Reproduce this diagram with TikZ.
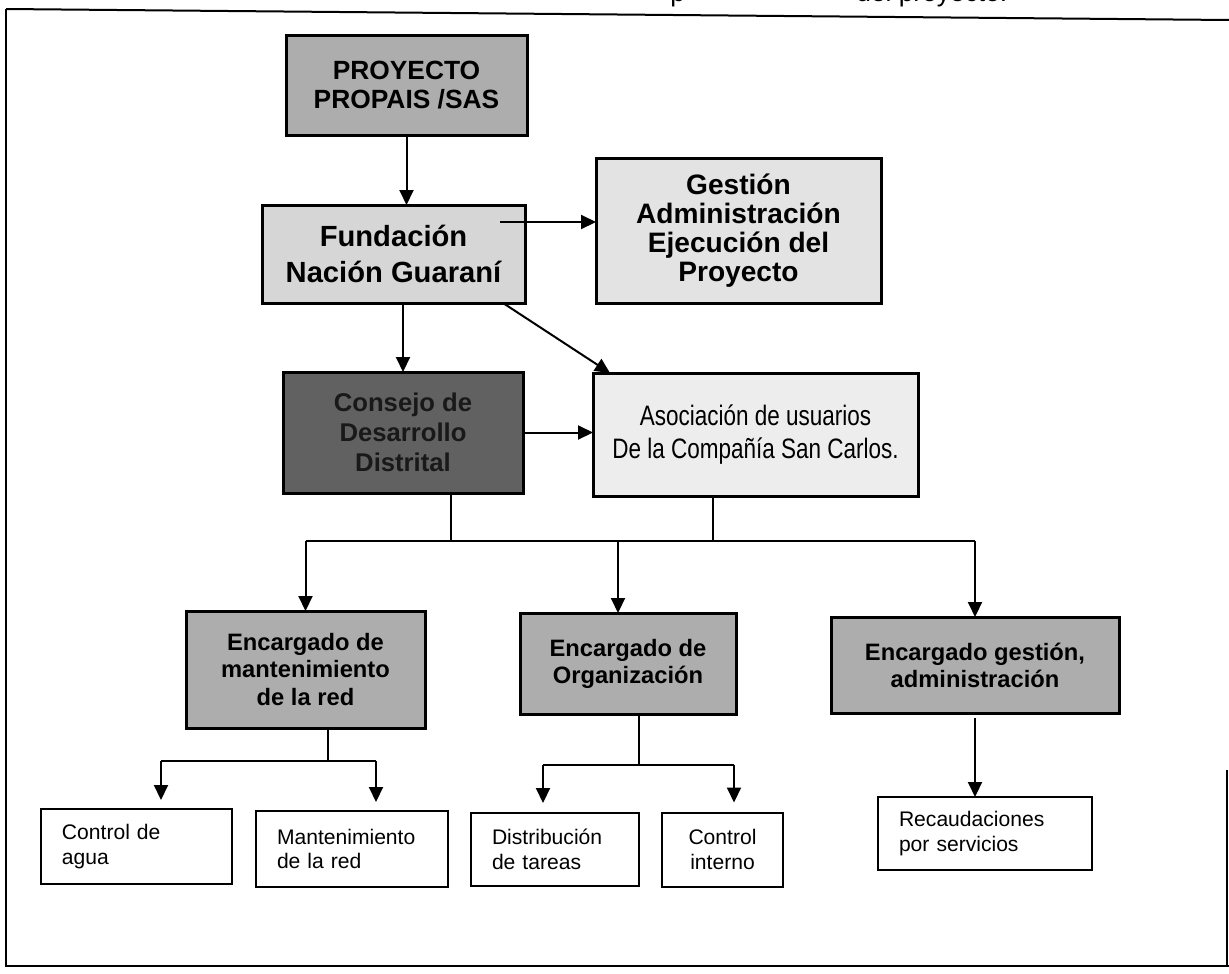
\documentclass[tikz,border=0pt]{standalone}
\usepackage{fontspec}
\setmainfont{Liberation Sans}
\newfontfamily\narrowsans[FakeStretch=0.8]{Liberation Sans}
\usetikzlibrary{arrows.meta,positioning}

\begin{document}
\begin{tikzpicture}[
  x=1mm, y=1mm,
  box/.style={draw, line width=0.6mm, align=center, inner sep=1mm, outer sep=0pt},
  topbox/.style={box, fill=black!32, font=\fontsize{15}{17}\selectfont\bfseries},
  fundbox/.style={box, fill=black!16, font=\fontsize{16.6}{20}\selectfont\bfseries},
  gestbox/.style={box, fill=black!11, font=\fontsize{16}{16.5}\selectfont\bfseries},
  darkbox/.style={box, fill=black!62, text=black!90, font=\fontsize{14.6}{17}\selectfont\bfseries},
  asocbox/.style={box, fill=black!7, font=\narrowsans\fontsize{16}{19}\selectfont},
  encbox/.style={box, fill=black!32, font=\fontsize{13.5}{15.4}\selectfont\bfseries},
  leaf/.style={draw, line width=0.4mm, align=left, inner xsep=4.2mm, inner ysep=1mm, outer sep=0pt, font=\fontsize{12}{14}\selectfont},
  ln/.style={line width=0.4mm},
  arr/.style={ln, -{Triangle[length=3mm,width=2.8mm]}}
]
\useasboundingbox (0,0) rectangle (245.8,-194.6);
% frame and cut title
\draw[ln] (1.2,-1.8) -- (245.8,-4);
\draw[ln] (1.2,-1.8) -- (1.2,-193.2) -- (245.8,-193.2);
\draw[ln] (245.4,-154) -- (245.4,-193.2);
\begin{scope}
\clip (0,0) rectangle (245.8,-10);
\node[anchor=base west, inner sep=0pt, font=\fontsize{15}{17}\selectfont] (ttlp) at (134,-0.3) {p};
\node[anchor=base west, inner sep=0pt, font=\fontsize{15}{17}\selectfont] (ttl) at (171.2,-0.3) {del proyecto.};
\end{scope}
% upper part
\node[topbox, minimum width=48.2mm, minimum height=20mm] (proy) at (81.3,-17) {PROYECTO\\PROPAIS /SAS};
\node[fundbox, below=14mm of proy, xshift=-2.6mm, minimum width=52.6mm, minimum height=19.6mm] (fund) {Fundación\\Nación Guaraní};
\node[gestbox, right=14.2mm of fund, yshift=4.7mm, minimum width=57mm, minimum height=29mm] (gest) {Gestión\\Administración\\Ejecución del\\Proyecto};
\node[darkbox, below=13.8mm of fund, xshift=1.9mm, minimum width=48mm, minimum height=24.2mm] (cons) {Consejo de\\Desarrollo\\Distrital};
\node[asocbox, right=14mm of cons, yshift=-0.4mm, minimum width=65mm, minimum height=24.6mm] (asoc) {Asociación de usuarios\\De la Compañía San Carlos.};
% encargados
\node[encbox, below=23.6mm of cons, xshift=-19.5mm, minimum width=47.8mm, minimum height=23.4mm] (emant) {Encargado de\\mantenimiento\\de la red};
\node[encbox, right=19mm of emant, yshift=1.2mm, minimum width=43.2mm, minimum height=20.2mm] (eorg) {Encargado de\\Organización};
\node[encbox, right=19mm of eorg, yshift=-0.3mm, minimum width=57.6mm, minimum height=19.2mm] (eges) {Encargado gestión,\\administración};
% tareas
\node[leaf, below=16.2mm of emant, xshift=-33.8mm, text width=29.8mm, minimum height=15mm] (agua) {Control de\\agua};
\node[leaf, right=4.8mm of agua, yshift=-0.5mm, text width=30mm, minimum height=15.2mm] (mred) {Mantenimiento\\de la red};
\node[leaf, right=4.6mm of mred, yshift=-0.1mm, text width=25.2mm, minimum height=14.6mm] (dist) {Distribución\\de tareas};
\node[leaf, right=4.6mm of dist, align=center, text width=15.8mm, minimum height=14.8mm] (cint) {Control\\interno};
\node[leaf, below=16.8mm of eges, xshift=2mm, text width=34.4mm, minimum height=14.6mm] (reca) {Recaudaciones\\por servicios};
% arrows
\draw[arr] (proy.south) -- (proy.south |- fund.north);
\draw[arr] ([shift={(-5mm,6.4mm)}]fund.east) coordinate (fg) -- (fg -| gest.west);
\draw[arr] (cons.north |- fund.south) -- (cons.north);
\draw[arr] ([xshift=-4.4mm]fund.south east) -- ([xshift=3.4mm]asoc.north west);
\draw[arr] (cons.east) -- (cons.east -| asoc.west);
\draw[ln] ([xshift=9.6mm]cons.south) -- ++(0,-9.6) coordinate (bus);
\coordinate (asocb) at ([xshift=24mm]asoc.south west);
\draw[ln] (asocb) -- (asocb |- bus);
\draw[ln] (emant.north |- bus) -- (eges.north |- bus);
\draw[arr] (emant.north |- bus) -- (emant.north);
\coordinate (eorgt) at ([xshift=-2mm]eorg.north);
\draw[arr] (eorgt |- bus) -- (eorgt);
\draw[arr] (eges.north |- bus) -- (eges.north);
\draw[ln] ([xshift=4.5mm]emant.south) -- ++(0,-6.6) coordinate (mbus);
\coordinate (aguat) at ([xshift=4.9mm]agua.north);
\coordinate (mredt) at ([xshift=4.8mm]mred.north);
\draw[ln] (aguat |- mbus) -- (mredt |- mbus);
\draw[arr, shorten >=1.8mm] (aguat |- mbus) -- (aguat);
\draw[arr, shorten >=1.8mm] (mredt |- mbus) -- (mredt);
\draw[ln] ([xshift=2.2mm]eorg.south) -- ++(0,-10.2) coordinate (obus);
\coordinate (distt) at ([xshift=-2.4mm]dist.north);
\coordinate (cintt) at ([xshift=2.3mm]cint.north);
\draw[ln] (distt |- obus) -- (cintt |- obus);
\draw[arr, shorten >=2mm] (distt |- obus) -- (distt);
\draw[arr, shorten >=2mm] (cintt |- obus) -- (cintt);
\draw[arr] ([yshift=-1mm]eges.south) -- (eges.south |- reca.north);
\end{tikzpicture}
\end{document}
